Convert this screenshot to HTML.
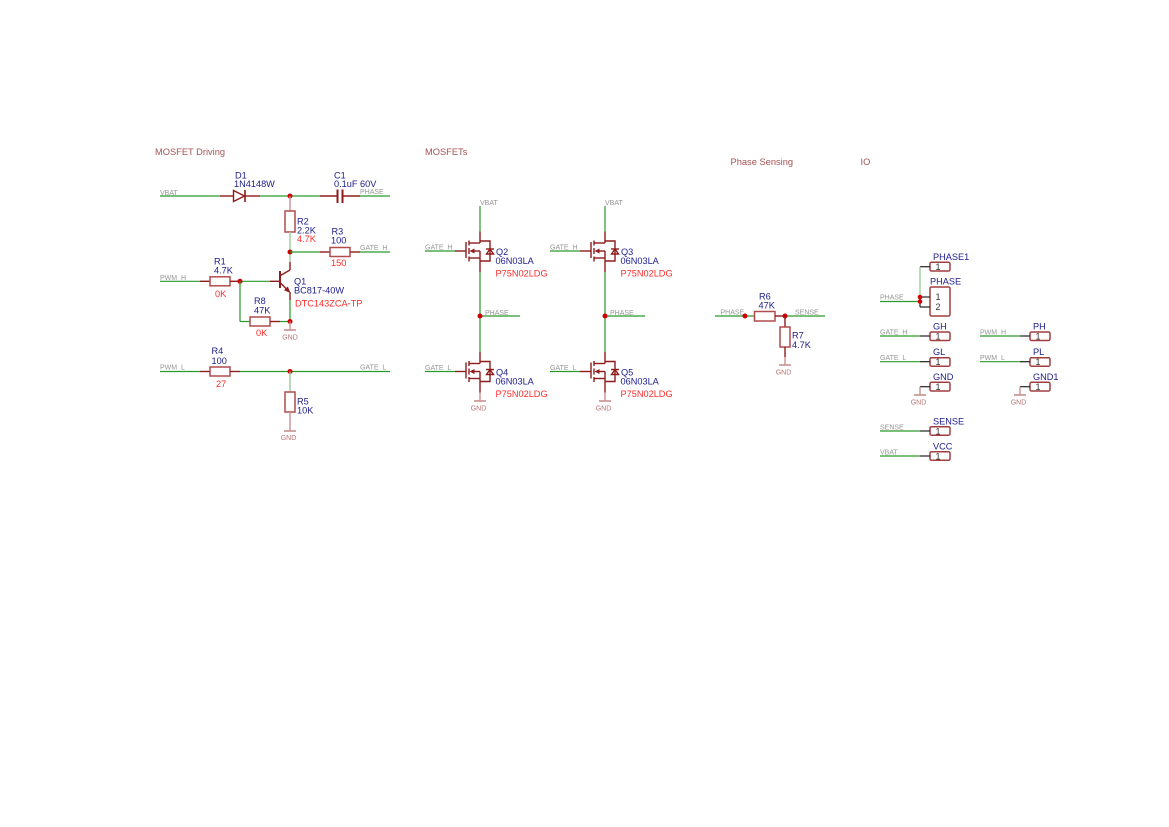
<!DOCTYPE html>
<html><head><meta charset="utf-8"><style>
html,body{margin:0;padding:0;background:#fff;}
svg{display:block;}
text{font-family:"Liberation Sans",sans-serif;white-space:pre;}
.t{font-size:9.3px;fill:#a45252;}
.b{font-size:9.2px;fill:#20208c;}
.r{font-size:9.2px;fill:#ff2b2b;}
.n{font-size:7px;fill:#959595;}
.g{font-size:7px;fill:#b57474;}
.k{font-size:9px;fill:#333;}
.w{stroke:#2a9a2a;stroke-width:1.2;fill:none;}
.lg{stroke:#9acd9a;stroke-width:1.4;fill:none;}
.p{stroke:#8e1c1c;stroke-width:1.4;fill:none;}
.lp{stroke:#c99090;stroke-width:1.4;fill:none;}
.rb{stroke:#b04c4c;stroke-width:1.5;fill:none;}
.bl{stroke:#222;stroke-width:1.2;fill:none;}
.cb{stroke:#a23e3e;stroke-width:1.5;fill:#fff;}
.d{fill:#d00000;}
</style></head><body>
<svg width="1169" height="827" viewBox="0 0 1169 827" xmlns="http://www.w3.org/2000/svg">
<rect width="1169" height="827" fill="#fff"/>

<!-- Titles -->
<text class="t" x="155" y="155">MOSFET Driving</text>
<text class="t" x="425" y="155">MOSFETs</text>
<text class="t" x="730.5" y="165">Phase Sensing</text>
<text class="t" x="860.5" y="165">IO</text>

<!-- ===== MOSFET Driving ===== -->
<!-- VBAT / D1 / C1 line -->
<text class="n" x="160" y="195">VBAT</text>
<line class="w" x1="160" y1="196" x2="220" y2="196"/>
<line class="p" x1="220" y1="196" x2="233" y2="196"/>
<polygon points="233.5,190.5 233.5,201.5 244.5,196" class="p"/>
<line class="p" x1="245" y1="190" x2="245" y2="202" style="stroke-width:1.6"/>
<line class="p" x1="245" y1="196" x2="260" y2="196"/>
<line class="w" x1="260" y1="196" x2="320" y2="196"/>
<line class="p" x1="320" y1="196" x2="337" y2="196"/>
<line class="p" x1="337.5" y1="189.5" x2="337.5" y2="203" style="stroke-width:2"/>
<line class="p" x1="342.5" y1="189.5" x2="342.5" y2="203" style="stroke-width:2"/>
<line class="p" x1="343" y1="196" x2="360" y2="196"/>
<line class="w" x1="360" y1="196" x2="390" y2="196"/>
<text class="n" x="360" y="194">PHASE</text>
<text class="b" x="235" y="178.5">D1</text>
<text class="b" x="234" y="187">1N4148W</text>
<text class="b" x="334" y="178.5">C1</text>
<text class="b" x="334" y="187">0.1uF 60V</text>
<circle class="d" cx="290" cy="196" r="2.5"/>

<!-- R2 -->
<line class="lp" x1="290" y1="196" x2="290" y2="211"/>
<rect class="rb" x="285" y="211" width="10" height="21"/>
<line class="lg" x1="290" y1="232" x2="290" y2="262"/>
<text class="b" x="297" y="224.5">R2</text>
<text class="b" x="297" y="233.5">2.2K</text>
<text class="r" x="297" y="242">4.7K</text>
<circle class="d" cx="290" cy="252" r="2.5"/>

<!-- R3 -->
<line class="w" x1="290" y1="252" x2="320" y2="252"/>
<line class="p" x1="320" y1="252" x2="330" y2="252"/>
<rect class="rb" x="330" y="247.5" width="20" height="9"/>
<line class="p" x1="350" y1="252" x2="360" y2="252"/>
<line class="w" x1="360" y1="252" x2="390" y2="252"/>
<text class="n" x="360" y="250">GATE  H</text>
<text class="b" x="331.5" y="234.5">R3</text>
<text class="b" x="331" y="243.5">100</text>
<text class="r" x="331" y="266">150</text>

<!-- Q1 -->
<line class="p" x1="290" y1="262" x2="290" y2="270"/>
<line class="p" x1="290" y1="270" x2="280.5" y2="275.5"/>
<line class="p" x1="280" y1="271" x2="280" y2="288" style="stroke-width:2"/>
<line class="p" x1="280.5" y1="283" x2="288" y2="290.5"/>
<polygon points="290.5,293 284,290.3 287.8,286.5" fill="#8e1c1c"/>
<line class="p" x1="290" y1="292" x2="290" y2="300"/>
<line class="w" x1="290" y1="300" x2="290" y2="321.5"/>
<text class="b" x="294" y="284.5">Q1</text>
<text class="b" x="294" y="293.5">BC817-40W</text>
<text class="r" x="295" y="306.5">DTC143ZCA-TP</text>

<!-- R1 -->
<text class="n" x="160" y="280">PWM  H</text>
<line class="w" x1="160" y1="281.3" x2="200" y2="281.3"/>
<line class="p" x1="200" y1="281.3" x2="210" y2="281.3"/>
<rect class="rb" x="210" y="276.8" width="20" height="9"/>
<line class="p" x1="230" y1="281.3" x2="240" y2="281.3"/>
<line class="w" x1="240" y1="281.3" x2="270" y2="281.3"/>
<line class="p" x1="270" y1="281.3" x2="280" y2="281.3"/>
<circle class="d" cx="240" cy="281.3" r="2.5"/>
<text class="b" x="214" y="264.5">R1</text>
<text class="b" x="214" y="273.5">4.7K</text>
<text class="r" x="215" y="297">0K</text>

<!-- R8 -->
<line class="w" x1="240" y1="281.3" x2="240" y2="321.5"/>
<line class="w" x1="240" y1="321.5" x2="250" y2="321.5"/>
<rect class="rb" x="250" y="317" width="20" height="9"/>
<line class="p" x1="270" y1="321.5" x2="280" y2="321.5"/>
<line class="w" x1="280" y1="321.5" x2="290" y2="321.5"/>
<circle class="d" cx="290" cy="321.5" r="2.5"/>
<text class="b" x="254" y="304">R8</text>
<text class="b" x="254" y="313.5">47K</text>
<text class="r" x="256" y="336">0K</text>
<line class="lp" x1="290" y1="321.5" x2="290" y2="330"/>
<line class="lp" x1="284" y1="330" x2="296" y2="330" style="stroke-width:1.6"/>
<text class="g" x="290" y="339.5" text-anchor="middle">GND</text>

<!-- R4 / R5 -->
<text class="n" x="160" y="369.5">PWM  L</text>
<line class="w" x1="160" y1="371.5" x2="200" y2="371.5"/>
<line class="p" x1="200" y1="371.5" x2="210" y2="371.5"/>
<rect class="rb" x="210" y="367" width="20" height="9"/>
<line class="p" x1="230" y1="371.5" x2="240" y2="371.5"/>
<line class="w" x1="240" y1="371.5" x2="390" y2="371.5"/>
<text class="n" x="360" y="369.5">GATE  L</text>
<circle class="d" cx="290" cy="371.5" r="2.5"/>
<text class="b" x="211.5" y="354">R4</text>
<text class="b" x="211.5" y="364">100</text>
<text class="r" x="216" y="387">27</text>
<line class="lg" x1="290" y1="371.5" x2="290" y2="392"/>
<rect class="rb" x="285" y="392" width="10" height="20"/>
<line class="lp" x1="290" y1="412" x2="290" y2="431"/>
<line class="lp" x1="284" y1="431" x2="296" y2="431" style="stroke-width:1.6"/>
<text class="g" x="288.5" y="440" text-anchor="middle">GND</text>
<text class="b" x="297" y="404.5">R5</text>
<text class="b" x="297" y="413.5">10K</text>

<!-- ===== MOSFETs ===== -->
<!-- column wires -->
<line class="w" x1="480" y1="206" x2="480" y2="231.5"/>
<line class="w" x1="480" y1="272" x2="480" y2="352"/>
<line class="w" x1="480" y1="316" x2="520" y2="316"/>
<circle class="d" cx="480" cy="316" r="2.5"/>
<text class="n" x="480" y="205">VBAT</text>
<text class="n" x="485" y="315">PHASE</text>
<line class="lp" x1="480" y1="392.5" x2="480" y2="401"/>
<line class="lp" x1="474" y1="401" x2="486" y2="401" style="stroke-width:1.6"/>
<text class="g" x="478.5" y="410.5" text-anchor="middle">GND</text>

<line class="w" x1="605" y1="206" x2="605" y2="231.5"/>
<line class="w" x1="605" y1="272" x2="605" y2="352"/>
<line class="w" x1="605" y1="316" x2="645" y2="316"/>
<circle class="d" cx="605" cy="316" r="2.5"/>
<text class="n" x="605" y="205">VBAT</text>
<text class="n" x="610" y="315">PHASE</text>
<line class="lp" x1="605" y1="392.5" x2="605" y2="401"/>
<line class="lp" x1="599" y1="401" x2="611" y2="401" style="stroke-width:1.6"/>
<text class="g" x="603.5" y="410.5" text-anchor="middle">GND</text>

<!-- MOSFET symbols -->
<g transform="translate(480,251)">
<line class="w" x1="-55" y1="0" x2="-25" y2="0"/><line class="p" x1="-25" y1="0" x2="-14" y2="0"/>
<line class="p" x1="-14" y1="-9" x2="-14" y2="7"/>
<line class="p" x1="-11" y1="-10.5" x2="-11" y2="-5.5"/><line class="p" x1="-11" y1="-3" x2="-11" y2="3"/><line class="p" x1="-11" y1="5.5" x2="-11" y2="10.5"/>
<line class="p" x1="-11" y1="-8" x2="0" y2="-8"/><line class="p" x1="0" y1="-19.5" x2="0" y2="-8"/>
<polyline class="p" points="0,-10 10,-10 10,10 0,10"/>
<line class="p" x1="-11" y1="7" x2="0" y2="7"/><line class="p" x1="0" y1="0" x2="0" y2="21"/>
<line class="p" x1="-8" y1="0" x2="0" y2="0"/><polygon points="-10.5,0 -5.5,-2.5 -5.5,2.5" fill="#8e1c1c"/>
<polygon class="p" points="6.5,3 13.5,3 10,-2"/><line class="p" x1="6" y1="-2" x2="14" y2="-2"/>
</g>
<g transform="translate(480,371.5)">
<line class="w" x1="-55" y1="0" x2="-25" y2="0"/><line class="p" x1="-25" y1="0" x2="-14" y2="0"/>
<line class="p" x1="-14" y1="-9" x2="-14" y2="7"/>
<line class="p" x1="-11" y1="-10.5" x2="-11" y2="-5.5"/><line class="p" x1="-11" y1="-3" x2="-11" y2="3"/><line class="p" x1="-11" y1="5.5" x2="-11" y2="10.5"/>
<line class="p" x1="-11" y1="-8" x2="0" y2="-8"/><line class="p" x1="0" y1="-19.5" x2="0" y2="-8"/>
<polyline class="p" points="0,-10 10,-10 10,10 0,10"/>
<line class="p" x1="-11" y1="7" x2="0" y2="7"/><line class="p" x1="0" y1="0" x2="0" y2="21"/>
<line class="p" x1="-8" y1="0" x2="0" y2="0"/><polygon points="-10.5,0 -5.5,-2.5 -5.5,2.5" fill="#8e1c1c"/>
<polygon class="p" points="6.5,3 13.5,3 10,-2"/><line class="p" x1="6" y1="-2" x2="14" y2="-2"/>
</g>
<g transform="translate(605,251)">
<line class="w" x1="-55" y1="0" x2="-25" y2="0"/><line class="p" x1="-25" y1="0" x2="-14" y2="0"/>
<line class="p" x1="-14" y1="-9" x2="-14" y2="7"/>
<line class="p" x1="-11" y1="-10.5" x2="-11" y2="-5.5"/><line class="p" x1="-11" y1="-3" x2="-11" y2="3"/><line class="p" x1="-11" y1="5.5" x2="-11" y2="10.5"/>
<line class="p" x1="-11" y1="-8" x2="0" y2="-8"/><line class="p" x1="0" y1="-19.5" x2="0" y2="-8"/>
<polyline class="p" points="0,-10 10,-10 10,10 0,10"/>
<line class="p" x1="-11" y1="7" x2="0" y2="7"/><line class="p" x1="0" y1="0" x2="0" y2="21"/>
<line class="p" x1="-8" y1="0" x2="0" y2="0"/><polygon points="-10.5,0 -5.5,-2.5 -5.5,2.5" fill="#8e1c1c"/>
<polygon class="p" points="6.5,3 13.5,3 10,-2"/><line class="p" x1="6" y1="-2" x2="14" y2="-2"/>
</g>
<g transform="translate(605,371.5)">
<line class="w" x1="-55" y1="0" x2="-25" y2="0"/><line class="p" x1="-25" y1="0" x2="-14" y2="0"/>
<line class="p" x1="-14" y1="-9" x2="-14" y2="7"/>
<line class="p" x1="-11" y1="-10.5" x2="-11" y2="-5.5"/><line class="p" x1="-11" y1="-3" x2="-11" y2="3"/><line class="p" x1="-11" y1="5.5" x2="-11" y2="10.5"/>
<line class="p" x1="-11" y1="-8" x2="0" y2="-8"/><line class="p" x1="0" y1="-19.5" x2="0" y2="-8"/>
<polyline class="p" points="0,-10 10,-10 10,10 0,10"/>
<line class="p" x1="-11" y1="7" x2="0" y2="7"/><line class="p" x1="0" y1="0" x2="0" y2="21"/>
<line class="p" x1="-8" y1="0" x2="0" y2="0"/><polygon points="-10.5,0 -5.5,-2.5 -5.5,2.5" fill="#8e1c1c"/>
<polygon class="p" points="6.5,3 13.5,3 10,-2"/><line class="p" x1="6" y1="-2" x2="14" y2="-2"/>
</g>

<text class="n" x="425" y="249.5">GATE  H</text>
<text class="n" x="425" y="370">GATE  L</text>
<text class="n" x="550" y="249.5">GATE  H</text>
<text class="n" x="550" y="370">GATE  L</text>

<text class="b" x="496" y="255">Q2</text>
<text class="b" x="495.5" y="264">06N03LA</text>
<text class="r" x="495.5" y="276.5">P75N02LDG</text>
<text class="b" x="496" y="375.5">Q4</text>
<text class="b" x="495.5" y="384.5">06N03LA</text>
<text class="r" x="495.5" y="397">P75N02LDG</text>
<text class="b" x="621" y="255">Q3</text>
<text class="b" x="620.5" y="264">06N03LA</text>
<text class="r" x="620.5" y="276.5">P75N02LDG</text>
<text class="b" x="621" y="375.5">Q5</text>
<text class="b" x="620.5" y="384.5">06N03LA</text>
<text class="r" x="620.5" y="397">P75N02LDG</text>

<!-- ===== Phase Sensing ===== -->
<text class="n" x="720.5" y="314.5">PHASE</text>
<line class="w" x1="715" y1="316" x2="754.5" y2="316"/>
<circle class="d" cx="745" cy="316" r="2.5"/>
<rect class="rb" x="754.5" y="311.5" width="20.5" height="9.5"/>
<line class="p" x1="775" y1="316" x2="785" y2="316"/>
<line class="w" x1="785" y1="316" x2="825" y2="316"/>
<circle class="d" cx="785" cy="316" r="2.5"/>
<text class="n" x="795" y="314.5">SENSE</text>
<text class="b" x="759" y="299.5">R6</text>
<text class="b" x="758.5" y="308.5">47K</text>
<line class="p" x1="785" y1="316" x2="785" y2="327"/>
<rect class="rb" x="780" y="327" width="10" height="20"/>
<line class="p" x1="785" y1="347" x2="785" y2="357"/>
<line class="lp" x1="785" y1="357" x2="785" y2="365"/>
<line class="lp" x1="779" y1="365" x2="791" y2="365" style="stroke-width:1.6"/>
<text class="g" x="783.5" y="374.5" text-anchor="middle">GND</text>
<text class="b" x="792" y="338.5">R7</text>
<text class="b" x="792" y="348">4.7K</text>

<!-- ===== IO ===== -->
<!-- PHASE1 / PHASE -->
<text class="b" x="933" y="260">PHASE1</text>
<rect class="cb" x="930" y="262.3" width="20" height="8.7" rx="1.5"/>
<text class="k" x="935.5" y="270">1</text>
<line class="bl" x1="920" y1="266.7" x2="930" y2="266.7"/>
<line class="lg" x1="920" y1="266.7" x2="920" y2="297"/>
<text class="b" x="930" y="284.5">PHASE</text>
<rect class="cb" x="930" y="287" width="20" height="29" rx="1.5"/>
<text class="k" x="935.5" y="300">1</text>
<text class="k" x="935.5" y="310">2</text>
<line class="bl" x1="920" y1="297" x2="930" y2="297"/>
<line class="bl" x1="920" y1="307" x2="930" y2="307"/>
<line class="bl" x1="920" y1="297" x2="920" y2="307"/>
<text class="n" x="880" y="299.5">PHASE</text>
<line class="w" x1="880" y1="301.5" x2="920" y2="301.5"/>
<circle class="d" cx="920" cy="297" r="2.3"/>
<circle class="d" cx="920" cy="301.5" r="2.3"/>

<!-- GH -->
<text class="b" x="933" y="329.5">GH</text>
<rect class="cb" x="930" y="332" width="20" height="8.5" rx="1.5"/>
<text class="k" x="935.5" y="339.5">1</text>
<line class="bl" x1="920" y1="336" x2="930" y2="336"/>
<line class="w" x1="880" y1="336" x2="920" y2="336"/>
<text class="n" x="880" y="334.5">GATE  H</text>
<!-- GL -->
<text class="b" x="933" y="355">GL</text>
<rect class="cb" x="930" y="357.7" width="20" height="8.5" rx="1.5"/>
<text class="k" x="935.5" y="365">1</text>
<line class="bl" x1="920" y1="361.7" x2="930" y2="361.7"/>
<line class="w" x1="880" y1="361.7" x2="920" y2="361.7"/>
<text class="n" x="880" y="360">GATE  L</text>
<!-- GND -->
<text class="b" x="933" y="380">GND</text>
<rect class="cb" x="930" y="382.3" width="20" height="8.7" rx="1.5"/>
<text class="k" x="935.5" y="390">1</text>
<line class="bl" x1="920" y1="386.7" x2="930" y2="386.7"/>
<line class="lp" x1="920" y1="386.7" x2="920" y2="395"/>
<line class="lp" x1="914" y1="395" x2="926" y2="395" style="stroke-width:1.6"/>
<text class="g" x="918.5" y="404.3" text-anchor="middle">GND</text>
<!-- SENSE -->
<text class="b" x="933" y="424.5">SENSE</text>
<rect class="cb" x="930" y="426.7" width="20" height="8.5" rx="1.5"/>
<text class="k" x="935.5" y="434.3">1</text>
<line class="bl" x1="920" y1="431" x2="930" y2="431"/>
<line class="w" x1="880" y1="431" x2="920" y2="431"/>
<text class="n" x="880" y="429.5">SENSE</text>
<!-- VCC -->
<text class="b" x="933" y="449.5">VCC</text>
<rect class="cb" x="930" y="451.7" width="20" height="8.6" rx="1.5"/>
<text class="k" x="935.5" y="459.3">1</text>
<line class="bl" x1="920" y1="456" x2="930" y2="456"/>
<line class="w" x1="880" y1="456" x2="920" y2="456"/>
<text class="n" x="880" y="454.5">VBAT</text>

<!-- PH -->
<text class="b" x="1033" y="329.5">PH</text>
<rect class="cb" x="1030" y="332" width="20" height="8.5" rx="1.5"/>
<text class="k" x="1035.5" y="339.5">1</text>
<line class="bl" x1="1020" y1="336" x2="1030" y2="336"/>
<line class="w" x1="980" y1="336" x2="1020" y2="336"/>
<text class="n" x="980" y="334.5">PWM  H</text>
<!-- PL -->
<text class="b" x="1033" y="355">PL</text>
<rect class="cb" x="1030" y="357.7" width="20" height="8.5" rx="1.5"/>
<text class="k" x="1035.5" y="365">1</text>
<line class="bl" x1="1020" y1="361.7" x2="1030" y2="361.7"/>
<line class="w" x1="980" y1="361.7" x2="1020" y2="361.7"/>
<text class="n" x="980" y="360">PWM  L</text>
<!-- GND1 -->
<text class="b" x="1033" y="380">GND1</text>
<rect class="cb" x="1030" y="382.3" width="20" height="8.7" rx="1.5"/>
<text class="k" x="1035.5" y="390">1</text>
<line class="bl" x1="1020" y1="386.7" x2="1030" y2="386.7"/>
<line class="lp" x1="1020" y1="386.7" x2="1020" y2="395"/>
<line class="lp" x1="1014" y1="395" x2="1026" y2="395" style="stroke-width:1.6"/>
<text class="g" x="1018.5" y="404.3" text-anchor="middle">GND</text>
</svg>
</body></html>
